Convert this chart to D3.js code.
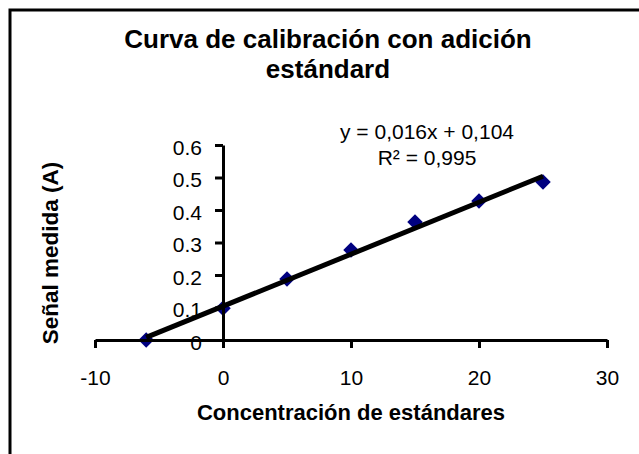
<!DOCTYPE html>
<html>
<head>
<meta charset="utf-8">
<script src="https://cdn.jsdelivr.net/npm/d3@7"></script>
<style>
  body { margin: 0; background: #fff; }
  svg text { font-family: "Liberation Sans", Arial, sans-serif; fill: #000; }
</style>
</head>
<body>
<svg id="calib" width="639" height="454"></svg>
<script>
// data
var concentracion = [-6, 0, 5, 10, 15, 20, 25];
var senal = [0, 0.098, 0.188, 0.277, 0.363, 0.428, 0.486];
var xTicks = [-10, 0, 10, 20, 30];
var yTicks = [0, 0.1, 0.2, 0.3, 0.4, 0.5, 0.6];
var pendiente = 0.016, intercepto = 0.104;
var ecuacion = ["y = 0,016x + 0,104", "R\u00b2 = 0,995"];

var svg = d3.select("#calib");

// set the ranges
var x = d3.scaleLinear().domain([-10, 30]).range([95, 607]);
var y = d3.scaleLinear().domain([0, 0.6]).range([340, 145]);

// chart border (runs off the right and bottom of the picture)
svg.append("rect")
    .attr("x", 10).attr("y", 10)
    .attr("width", 700).attr("height", 500)
    .attr("fill", "none")
    .attr("stroke", "#000")
    .attr("stroke-width", 3);

// title
var title = svg.append("text")
    .attr("text-anchor", "middle")
    .attr("font-weight", "bold")
    .attr("font-size", 26);
title.append("tspan").attr("x", 328).attr("y", 48).text("Curva de calibración con adición");
title.append("tspan").attr("x", 328).attr("y", 78).text("estándard");

var points = concentracion.map(function(d, i) { return {x: d, y: senal[i]}; });

// markers
svg.append("g").selectAll("path")
    .data(points)
  .enter().append("path")
    .attr("d", d3.symbol().type(d3.symbolSquare).size(120))
    .attr("transform", function(d) { return "translate(" + x(d.x) + "," + y(d.y) + ") rotate(45)"; })
    .attr("fill", "#000080");

// X axis at y = 0
var xAxis = d3.axisBottom(x).tickValues(xTicks).tickSize(8).tickSizeOuter(0)
    .tickFormat(function(d) { return String(d); });
svg.append("g")
    .attr("transform", "translate(0," + y(0) + ")")
    .call(customXAxis);

// Y axis at x = 0
var yAxis = d3.axisLeft(y).tickValues(yTicks).tickSize(8).tickSizeOuter(0)
    .tickFormat(function(d) { return d === 0 ? "0" : d3.format(".1f")(d); });
svg.append("g")
    .attr("transform", "translate(" + x(0) + ",0)")
    .call(customYAxis);

// linear trendline over the data range
var xr = d3.extent(concentracion);
var trend = xr.map(function(v) { return {x: v, y: pendiente * v + intercepto}; });
svg.append("path")
    .datum(trend)
    .attr("fill", "none")
    .attr("stroke", "#000")
    .attr("stroke-width", 5)
    .attr("d", d3.line().x(function(d) { return x(d.x); }).y(function(d) { return y(d.y); }));

// equation label
svg.append("g").selectAll("text")
    .data(ecuacion)
  .enter().append("text")
    .attr("x", 427)
    .attr("y", function(d, i) { return 139 + i * 26; })
    .attr("text-anchor", "middle")
    .attr("font-size", 21)
    .text(function(d) { return d; });

// axis titles
svg.append("text")
    .attr("x", 351).attr("y", 420)
    .attr("text-anchor", "middle")
    .attr("font-weight", "bold")
    .attr("font-size", 22)
    .text("Concentración de estándares");

svg.append("text")
    .attr("transform", "translate(58,253) rotate(-90)")
    .attr("text-anchor", "middle")
    .attr("font-weight", "bold")
    .attr("font-size", 22.5)
    .text("Señal medida (A)");

function customXAxis(g) {
  g.call(xAxis);
  g.select(".domain").attr("stroke", "#000").attr("stroke-width", 3);
  g.selectAll(".tick line").attr("stroke", "#000").attr("stroke-width", 3);
  g.selectAll(".tick text").attr("y", 45).attr("dy", 0)
      .attr("font-size", 21).attr("font-family", null).attr("fill", "#000");
}

function customYAxis(g) {
  g.call(yAxis);
  g.select(".domain").attr("stroke", "#000").attr("stroke-width", 3);
  g.selectAll(".tick line").attr("stroke", "#000").attr("stroke-width", 3);
  g.selectAll(".tick text").attr("x", -21).attr("dy", "0.45em")
      .attr("font-size", 21).attr("font-family", null).attr("fill", "#000");
}
</script>
</body>
</html>
